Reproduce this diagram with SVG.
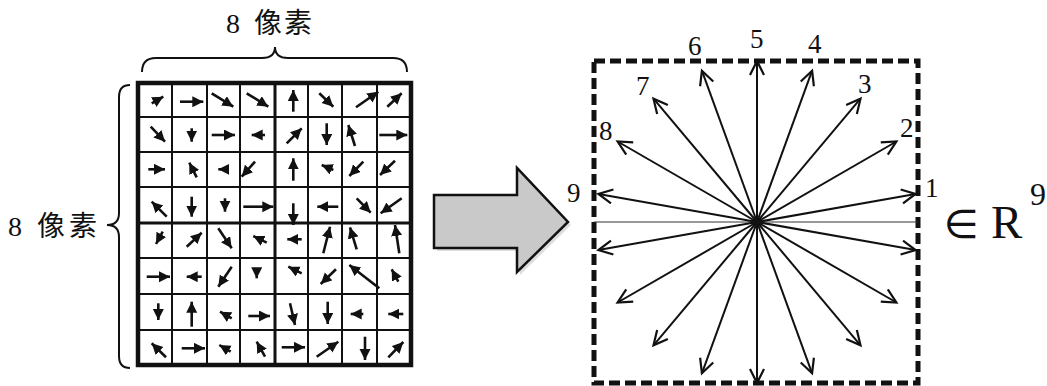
<svg xmlns="http://www.w3.org/2000/svg" width="1047" height="386" viewBox="0 0 1047 386">
<defs>
<style>
.lbl{font-family:"Liberation Serif","Noto Sans CJK SC",serif;fill:#111}
.num{font-family:"Liberation Serif",serif;font-size:27px;fill:#111}
.ga{stroke:#111;stroke-width:2.6;fill:none;marker-end:url(#fat)}
.ra{stroke:#111;stroke-width:2;fill:none;marker-end:url(#open)}
.grid{stroke:#111;stroke-width:2}
.brace{stroke:#111;stroke-width:2;fill:none}
</style>
<marker id="fat" markerUnits="userSpaceOnUse" markerWidth="13" markerHeight="13" refX="11" refY="5.5" orient="auto">
<path d="M0,0 L11,5.5 L0,11 z" fill="#111"/>
</marker>
<marker id="open" markerUnits="userSpaceOnUse" markerWidth="18" markerHeight="18" refX="15" refY="8" orient="auto">
<path d="M1,1 L15,8 L1,15" fill="none" stroke="#111" stroke-width="2.2"/>
</marker>
</defs>
<rect width="1047" height="386" fill="#fff"/>

<g id="label-top">
<text class="lbl" font-size="28" y="33" x="226 241 254 284">8 像素</text>
</g>
<g id="brace-top">
<path class="brace" d="M142,72 Q142,58 156,58 L262,58 Q275,58 275,47 Q275,58 288,58 L393,58 Q407,58 407,72"/>
</g>
<g id="label-left">
<text class="lbl" font-size="28" y="236" x="8 24 37 69">8 像素</text>
</g>
<g id="brace-left">
<path class="brace" d="M130,85 Q119,85 119,97 L119,213 Q119,225 107,225 Q119,225 119,237 L119,356 Q119,368 130,368"/>
</g>

<g id="grid">
<g class="grid">
<line x1="172" y1="83" x2="172" y2="365"/>
<line x1="207" y1="83" x2="207" y2="365"/>
<line x1="240" y1="83" x2="240" y2="365"/>
<line x1="275" y1="83" x2="275" y2="365" stroke-width="3"/>
<line x1="308" y1="83" x2="308" y2="365"/>
<line x1="342" y1="83" x2="342" y2="365"/>
<line x1="377" y1="83" x2="377" y2="365"/>
<line x1="138" y1="117" x2="411" y2="117"/>
<line x1="138" y1="152" x2="411" y2="152"/>
<line x1="138" y1="187" x2="411" y2="187"/>
<line x1="138" y1="223" x2="411" y2="223" stroke-width="3"/>
<line x1="138" y1="258" x2="411" y2="258"/>
<line x1="138" y1="294" x2="411" y2="294"/>
<line x1="138" y1="330" x2="411" y2="330"/>
</g>
<rect x="138" y="83" width="273" height="282" fill="none" stroke="#111" stroke-width="4.5"/>
<g id="grid-arrows">
<line class="ga" x1="151.7" y1="103.3" x2="163.3" y2="96.7"/>
<line class="ga" x1="180" y1="101.7" x2="203.3" y2="101.7"/>
<line class="ga" x1="211.7" y1="93.3" x2="233.3" y2="106.7"/>
<line class="ga" x1="246.7" y1="93.3" x2="268.3" y2="106.7"/>
<line class="ga" x1="293.3" y1="111.7" x2="293.3" y2="90"/>
<line class="ga" x1="319.3" y1="93.3" x2="333.3" y2="106.7"/>
<line class="ga" x1="356" y1="107.3" x2="378.3" y2="91.7"/>
<line class="ga" x1="387.3" y1="106.7" x2="401.7" y2="93.3"/>

<line class="ga" x1="150.7" y1="126.7" x2="165" y2="141.7"/>
<line class="ga" x1="191.7" y1="128.3" x2="191.7" y2="141.7"/>
<line class="ga" x1="211.7" y1="135" x2="235" y2="135"/>
<line class="ga" x1="265" y1="135" x2="251.7" y2="135"/>
<line class="ga" x1="286.7" y1="143.3" x2="301.7" y2="128.3"/>
<line class="ga" x1="326.7" y1="123.3" x2="326.7" y2="145"/>
<line class="ga" x1="355" y1="146" x2="348.3" y2="125"/>
<line class="ga" x1="379.3" y1="135" x2="407.3" y2="135"/>

<line class="ga" x1="148.3" y1="169.3" x2="165" y2="169.3"/>
<line class="ga" x1="196.7" y1="177.3" x2="189.3" y2="162.7"/>
<line class="ga" x1="228.3" y1="169.3" x2="218.3" y2="169.3"/>
<line class="ga" x1="255" y1="161.7" x2="241.7" y2="176.7"/>
<line class="ga" x1="293.3" y1="180.7" x2="293.3" y2="158.3"/>
<line class="ga" x1="333.3" y1="170" x2="321.7" y2="165"/>
<line class="ga" x1="363.3" y1="161.7" x2="349.3" y2="176"/>
<line class="ga" x1="395" y1="160.7" x2="380" y2="175"/>

<line class="ga" x1="166.7" y1="216.7" x2="151.7" y2="201.7"/>
<line class="ga" x1="191.7" y1="196.7" x2="191.7" y2="216.7"/>
<line class="ga" x1="225" y1="198.3" x2="225" y2="211.7"/>
<line class="ga" x1="243.3" y1="206.7" x2="273.3" y2="206.7"/>
<line class="ga" x1="293.3" y1="203.3" x2="293.3" y2="225"/>
<line class="ga" x1="338.3" y1="206.7" x2="317.3" y2="206.7"/>
<line class="ga" x1="356.7" y1="198.3" x2="370.7" y2="212.7"/>
<line class="ga" x1="401.7" y1="198.3" x2="380.7" y2="213.3"/>

<line class="ga" x1="162.7" y1="231.7" x2="156" y2="244"/>
<line class="ga" x1="186.7" y1="246.7" x2="201.7" y2="232.7"/>
<line class="ga" x1="218.3" y1="228.3" x2="231.7" y2="248.3"/>
<line class="ga" x1="266.7" y1="242.7" x2="253.3" y2="236"/>
<line class="ga" x1="301.7" y1="239.3" x2="287.3" y2="239.3"/>
<line class="ga" x1="323.3" y1="253.3" x2="330" y2="226.7"/>
<line class="ga" x1="356.7" y1="249.3" x2="350" y2="227.3"/>
<line class="ga" x1="399.3" y1="253.3" x2="395" y2="225"/>

<line class="ga" x1="146.7" y1="276.7" x2="170" y2="276.7"/>
<line class="ga" x1="201.7" y1="276.7" x2="186.7" y2="276.7"/>
<line class="ga" x1="231.7" y1="266.7" x2="218.3" y2="286.7"/>
<line class="ga" x1="256.7" y1="268.3" x2="256.7" y2="278.3"/>
<line class="ga" x1="301.7" y1="273.3" x2="288.3" y2="266.7"/>
<line class="ga" x1="336" y1="269.3" x2="320.7" y2="284"/>
<line class="ga" x1="379.3" y1="288.3" x2="349.3" y2="265"/>
<line class="ga" x1="398.3" y1="281.7" x2="391.7" y2="269.3"/>

<line class="ga" x1="158.3" y1="303.3" x2="158.3" y2="320"/>
<line class="ga" x1="191.7" y1="326.7" x2="191.7" y2="301.7"/>
<line class="ga" x1="231.7" y1="318.3" x2="220" y2="311.7"/>
<line class="ga" x1="248.3" y1="316" x2="270" y2="316"/>
<line class="ga" x1="290" y1="303.3" x2="295" y2="325"/>
<line class="ga" x1="327.7" y1="301.7" x2="327.7" y2="324"/>
<line class="ga" x1="363.3" y1="314" x2="350.7" y2="314"/>
<line class="ga" x1="403.3" y1="314" x2="388.3" y2="314"/>

<line class="ga" x1="166" y1="357.3" x2="151.7" y2="343.3"/>
<line class="ga" x1="181.7" y1="348.3" x2="205" y2="348.3"/>
<line class="ga" x1="230.7" y1="351.7" x2="219.3" y2="345"/>
<line class="ga" x1="265" y1="356.7" x2="256.7" y2="341.7"/>
<line class="ga" x1="281.7" y1="347.3" x2="305" y2="347.3"/>
<line class="ga" x1="316.7" y1="356.7" x2="338.3" y2="341.7"/>
<line class="ga" x1="365" y1="336.7" x2="365" y2="360"/>
<line class="ga" x1="388.3" y1="357.3" x2="403.3" y2="342"/>
</g>
</g>

<g id="big-arrow">
<polygon points="437,198 520,198 520,171 571,225 520,275 520,251 437,251" fill="#ddd"/>
<polygon points="434,195 517,195 517,168 568,222 517,272 517,248 434,248" fill="#c9c9c9" stroke="#111" stroke-width="2.5" stroke-linejoin="miter"/>
</g>

<g id="histogram-box">
<rect x="594" y="61" width="324" height="322" fill="none" stroke="#111" stroke-width="5" stroke-dasharray="11 5"/>
<line x1="594" y1="222" x2="918" y2="222" stroke="#333" stroke-width="1"/>
</g>

<g id="connectors">
<line class="ra" x1="757" y1="222" x2="915.6" y2="194"/>
<line class="ra" x1="757" y1="222" x2="896.4" y2="141.5"/>
<line class="ra" x1="757" y1="222" x2="860.5" y2="98.7"/>
<line class="ra" x1="757" y1="222" x2="812.1" y2="70.7"/>
<line class="ra" x1="757" y1="222" x2="757" y2="61"/>
<line class="ra" x1="757" y1="222" x2="701.9" y2="70.7"/>
<line class="ra" x1="757" y1="222" x2="653.5" y2="98.7"/>
<line class="ra" x1="757" y1="222" x2="617.6" y2="141.5"/>
<line class="ra" x1="757" y1="222" x2="598.4" y2="194"/>
<line class="ra" x1="757" y1="222" x2="598.4" y2="250"/>
<line class="ra" x1="757" y1="222" x2="617.6" y2="302.5"/>
<line class="ra" x1="757" y1="222" x2="653.5" y2="345.3"/>
<line class="ra" x1="757" y1="222" x2="701.9" y2="373.3"/>
<line class="ra" x1="757" y1="222" x2="757" y2="383"/>
<line class="ra" x1="757" y1="222" x2="812.1" y2="373.3"/>
<line class="ra" x1="757" y1="222" x2="860.5" y2="345.3"/>
<line class="ra" x1="757" y1="222" x2="896.4" y2="302.5"/>
<line class="ra" x1="757" y1="222" x2="915.6" y2="250"/>
<ellipse cx="757" cy="222" rx="6" ry="3" fill="#111"/>
</g>

<g id="bin-labels">
<text class="num" x="925" y="197">1</text>
<text class="num" x="900" y="137">2</text>
<text class="num" x="858" y="93">3</text>
<text class="num" x="808" y="53">4</text>
<text class="num" x="750" y="48">5</text>
<text class="num" x="688" y="55">6</text>
<text class="num" x="636" y="95">7</text>
<text class="num" x="599" y="140">8</text>
<text class="num" x="567" y="202">9</text>
</g>

<g id="dim-label">
<text font-family="DejaVu Sans, sans-serif" font-size="40" x="944" y="238" fill="#111">∈</text>
<text font-family="Liberation Serif, serif" font-size="47" x="991" y="238" fill="#111">R</text>
<text font-family="Liberation Serif, serif" font-size="32" x="1030" y="205" fill="#111">9</text>
</g>
</svg>
